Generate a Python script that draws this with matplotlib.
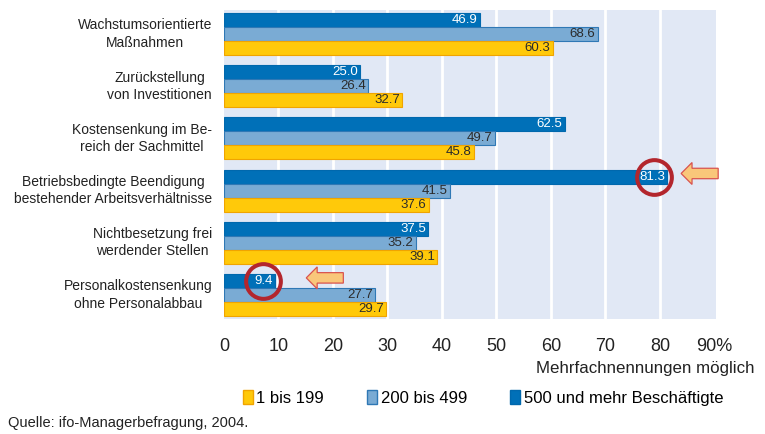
import numpy as np
import matplotlib
matplotlib.use("Agg")
from matplotlib import pyplot as plt
from matplotlib.patches import FancyArrow, Patch

plt.rcParams['font.family'] = ['Liberation Sans', 'DejaVu Sans']

categories = ["Wachstumsorientierte\nMaßnahmen",
              "Zurückstellung\nvon Investitionen",
              "Kostensenkung im Be-\nreich der Sachmittel",
              "Betriebsbedingte Beendigung\nbestehender Arbeitsverhältnisse",
              "Nichtbesetzung frei\nwerdender Stellen",
              "Personalkostensenkung\nohne Personalabbau"]
big = [46.9, 25.0, 62.5, 81.3, 37.5, 9.4]       # 500 und mehr Beschäftigte
mid = [68.6, 26.4, 49.7, 41.5, 35.2, 27.7]      # 200 bis 499
small = [60.3, 32.7, 45.8, 37.6, 39.1, 29.7]    # 1 bis 199
xticks = [0, 10, 20, 30, 40, 50, 60, 70, 80, 90]
xticklabels = ["0", "10", "20", "30", "40", "50", "60", "70", "80", "90%"]
highlight = [3, 5]  # groups with circled value

c_big, c_mid, c_small = "#0070b8", "#7aabd4", "#ffc90a"
e_big, e_mid, e_small = "#0068ad", "#2f78b5", "#f0a400"

fig = plt.figure(figsize=(7.65, 4.34), dpi=100)
ax = fig.add_axes([224 / 765, 1 - 319 / 434, 492 / 765, 309 / 434])
ax.set_facecolor("#e1e8f5")

y = np.arange(len(categories))
h = 0.268
series = [(big, -h, c_big, e_big, "white"),
          (mid, 0, c_mid, e_mid, "#2b2b2b"),
          (small, h, c_small, e_small, "#2b2b2b")]
for vals, off, fc, ec, tc in series:
    ax.barh(y + off, vals, height=h, color=fc, edgecolor=ec, linewidth=0.8, zorder=3)
    for yi, v in zip(y, vals):
        ax.text(v - 0.4, yi + off, f"{v:.1f}", ha="right", va="center",
                fontsize=9.5, color=tc, zorder=5)

for g in highlight:
    ax.plot(big[g] - 2.3, g - h, "o", ms=25, mfc="none", mec="#b3262d",
            mew=2.9, zorder=6, clip_on=False)
    tip = big[g] + 2.6 if g == 3 else big[g] + 5.7
    yc = g - h - 0.06
    ax.add_patch(FancyArrow(tip + 6.8, yc, -6.8, 0, width=0.2, head_width=0.42,
                            head_length=2.0, length_includes_head=True,
                            fc="#f9c77a", ec="#d9534f", lw=0.9, zorder=6,
                            clip_on=False))

ax.set_xlim(0, 90.3)
ax.set_ylim(len(categories) - 1 + 0.46, -0.46)
for xv in xticks[1:-1]:
    ax.axvline(xv, color="white", lw=2, zorder=1)
for s in ax.spines.values():
    s.set_visible(False)
ax.set_xticks(xticks)
ax.set_xticklabels(xticklabels, fontsize=13, color="#222222")
ax.tick_params(axis="x", length=0, pad=14)
ax.set_yticks(y)
ax.set_yticklabels([])
ax.tick_params(axis="y", length=0)
for yi, lab in zip(y, categories):
    ax.text(-2.2, yi, lab, ha="right", va="center", multialignment="center",
            fontsize=10, color="#222222", linespacing=1.3)

fig.text(755 / 765, 1 - 368 / 434, "Mehrfachnennungen möglich", ha="right",
         va="center", fontsize=12.2, color="#222222")

handles = [Patch(fc=c_small, ec=e_small), Patch(fc=c_mid, ec=e_mid),
           Patch(fc=c_big, ec=e_big)]
fig.legend(handles, ["1 bis 199", "200 bis 499", "500 und mehr Beschäftigte"],
           loc="center left", bbox_to_anchor=(228 / 765, 1 - 398 / 434),
           ncol=3, frameon=False, fontsize=12, handlelength=0.6, handleheight=0.9,
           handletextpad=0.2, columnspacing=2.6)

fig.text(8 / 765, 1 - 423 / 434, "Quelle: ifo-Managerbefragung, 2004.",
         ha="left", va="center", fontsize=10.5, color="#222222")

fig.savefig("out.png", dpi=100)
